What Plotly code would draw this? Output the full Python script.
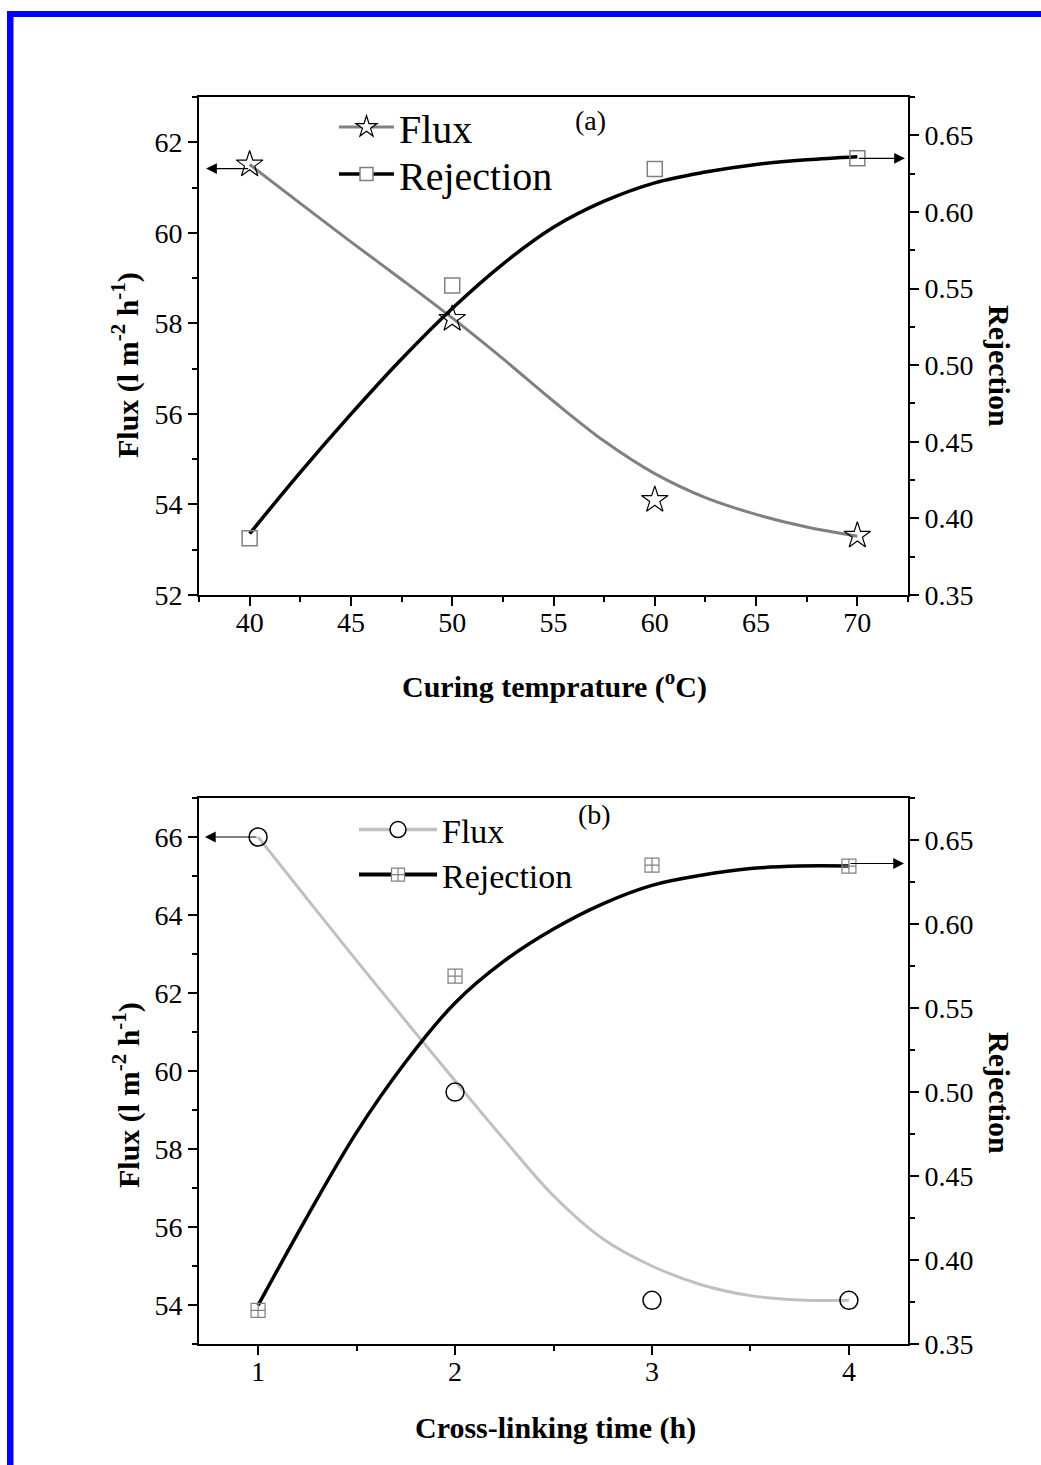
import plotly.graph_objects as go

W, H = 1041, 1465
FONT = "Liberation Serif, Times New Roman, serif"

# ---------------- data: panel (a) ----------------
temp_a = [40, 50, 60, 70]
flux_a = [61.51, 58.10, 54.10, 53.31]
rej_a = [0.387, 0.552, 0.628, 0.635]

# fitted curves
fit_x_a = [40, 42.5, 45, 47.5, 50, 52.5, 55, 57.5, 60, 62.5, 65, 67.5, 70]
flux_fit_a = [61.51, 60.65, 59.80, 58.97, 58.12, 57.22, 56.28, 55.40, 54.68, 54.15, 53.78, 53.50, 53.30]
rej_fit_a = [0.390, 0.430, 0.468, 0.504, 0.537, 0.566, 0.590, 0.607, 0.619, 0.626, 0.631, 0.634, 0.636]

# ---------------- data: panel (b) ----------------
time_b = [1, 2, 3, 4]
flux_b = [66.0, 59.46, 54.12, 54.12]
rej_b = [0.370, 0.569, 0.635, 0.6345]

fit_x_b = [1, 1.25, 1.5, 1.75, 2, 2.25, 2.5, 2.75, 3, 3.25, 3.5, 3.75, 4]
flux_fit_b = [66.0, 64.41, 62.83, 61.28, 59.75, 58.24, 56.80, 55.70, 55.00, 54.52, 54.24, 54.13, 54.12]
rej_fit_b = [0.373, 0.426, 0.476, 0.518, 0.553, 0.578, 0.597, 0.612, 0.623, 0.629, 0.633, 0.6345, 0.6345]

# arrow tips (axis-pointing arrows)
arrow_a_left = (37.85, 61.42)
arrow_a_right = (72.35, 0.635)
arrow_b_left = (0.73, 66.0)
arrow_b_right = (4.28, 0.636)


def px(x):
    return x / W


def py(y):
    return 1 - y / H


XD = [px(199), px(908)]
YD_A = [py(595), py(97)]
YD_B = [py(1344), py(798)]

fig = go.Figure()

GREY = "#808080"
LGREY = "#c0c0c0"

# ---- panel (a) traces ----
fig.add_trace(go.Scatter(x=fit_x_a, y=flux_fit_a, mode="lines", line=dict(color=GREY, width=3, shape="spline"),
                         xaxis="x", yaxis="y", showlegend=False))
fig.add_trace(go.Scatter(x=fit_x_a, y=rej_fit_a, mode="lines", line=dict(color="black", width=3.5, shape="spline"),
                         xaxis="x", yaxis="y2", showlegend=False))
fig.add_trace(go.Scatter(x=temp_a, y=flux_a, mode="markers",
                         marker=dict(symbol="star-open", size=20, color="black", line=dict(width=1.2, color="black")),
                         xaxis="x", yaxis="y", showlegend=False))
fig.add_trace(go.Scatter(x=temp_a, y=rej_a, mode="markers",
                         marker=dict(symbol="square-open", size=15, color=GREY, line=dict(width=1.5, color=GREY)),
                         xaxis="x", yaxis="y2", showlegend=False))

# legend entries (a)
fig.add_trace(go.Scatter(x=[None], y=[None], mode="lines+markers", name="Flux",
                         line=dict(color=GREY, width=3),
                         marker=dict(symbol="star", size=16, color="white", line=dict(width=1.2, color="black")),
                         xaxis="x", yaxis="y", legend="legend"))
fig.add_trace(go.Scatter(x=[None], y=[None], mode="lines+markers", name="Rejection",
                         line=dict(color="black", width=3.5),
                         marker=dict(symbol="square", size=13, color="white", line=dict(width=1.5, color=GREY)),
                         xaxis="x", yaxis="y", legend="legend3"))

# ---- panel (b) traces ----
fig.add_trace(go.Scatter(x=fit_x_b, y=flux_fit_b, mode="lines", line=dict(color=LGREY, width=3, shape="spline"),
                         xaxis="x2", yaxis="y3", showlegend=False))
fig.add_trace(go.Scatter(x=fit_x_b, y=rej_fit_b, mode="lines", line=dict(color="black", width=3.5, shape="spline"),
                         xaxis="x2", yaxis="y4", showlegend=False))
fig.add_trace(go.Scatter(x=time_b, y=flux_b, mode="markers",
                         marker=dict(symbol="circle-open", size=18, color="black", line=dict(width=1.5, color="black")),
                         xaxis="x2", yaxis="y3", showlegend=False))
fig.add_trace(go.Scatter(x=time_b, y=rej_b, mode="markers",
                         marker=dict(symbol="square-cross-open", size=14, color=GREY, line=dict(width=1.2, color=GREY)),
                         xaxis="x2", yaxis="y4", showlegend=False))

fig.add_trace(go.Scatter(x=[None], y=[None], mode="lines+markers", name="Flux",
                         line=dict(color=LGREY, width=3.5),
                         marker=dict(symbol="circle", size=16, color="white", line=dict(width=1.5, color="black")),
                         xaxis="x2", yaxis="y3", legend="legend2"))
fig.add_trace(go.Scatter(x=[None], y=[None], mode="lines+markers", name="Rejection",
                         line=dict(color="black", width=4),
                         marker=dict(symbol="square-cross", size=13, color="white", line=dict(width=1.2, color=GREY)),
                         xaxis="x2", yaxis="y3", legend="legend4"))

tickfont = dict(family=FONT, size=28, color="black")
common = dict(showline=True, linecolor="black", linewidth=2, ticks="outside", tickwidth=2, ticklen=9,
              tickcolor="black", tickfont=tickfont, showgrid=False, zeroline=False, automargin=False)


def minor(dt):
    return dict(ticks="outside", dtick=dt, tick0=0, ticklen=5, tickwidth=2, tickcolor="black")


def leg(xl, yc, size, iw):
    return dict(x=px(xl), y=py(yc), xanchor="left", yanchor="middle", bgcolor="rgba(0,0,0,0)",
                font=dict(family=FONT, size=size, color="black"), itemwidth=iw, tracegroupgap=0)


fig.update_layout(
    width=W, height=H,
    margin=dict(l=0, r=0, t=0, b=0, pad=0, autoexpand=False),
    paper_bgcolor="white", plot_bgcolor="white",
    font=dict(family=FONT, color="black"),
    xaxis=dict(domain=XD, anchor="y", range=[37.5, 72.5], dtick=5, tick0=0, mirror=True,
               ticklabelstandoff=-8, minor=minor(2.5), **common),
    yaxis=dict(domain=YD_A, anchor="x", range=[52, 63], dtick=2, tick0=0, minor=minor(1), **common),
    yaxis2=dict(overlaying="y", side="right", anchor="x", range=[0.35, 0.675], dtick=0.05, tick0=0,
                tickformat=".2f", minor=minor(0.025), **common),
    xaxis3=dict(overlaying="x", side="top", anchor="y", range=[37.5, 72.5], dtick=2.5, tick0=0,
                showline=True, linecolor="black", linewidth=2, ticks="outside", ticklen=3, tickwidth=2,
                tickcolor="black", showticklabels=False, showgrid=False, zeroline=False),
    xaxis2=dict(domain=XD, anchor="y3", range=[0.7, 4.3], dtick=1, tick0=0, mirror=True,
                ticklabelstandoff=-8, minor=minor(0.5), **common),
    yaxis3=dict(domain=YD_B, anchor="x2", range=[53, 67], dtick=2, tick0=0, minor=minor(1), **common),
    yaxis4=dict(overlaying="y3", side="right", anchor="x2", range=[0.35, 0.675], dtick=0.05, tick0=0,
                tickformat=".2f", minor=minor(0.025), **common),
    xaxis4=dict(overlaying="x2", side="top", anchor="y3", range=[0.7, 4.3], dtick=0.5, tick0=0,
                showline=True, linecolor="black", linewidth=2, ticks="outside", ticklen=3, tickwidth=2,
                tickcolor="black", showticklabels=False, showgrid=False, zeroline=False),
    legend=leg(334, 127, 40, 55),
    legend3=leg(334, 174, 40, 55),
    legend2=leg(354, 830, 34, 78),
    legend4=leg(354, 875, 34, 78),
)

# blue frame edges
fig.add_shape(type="rect", xref="paper", yref="paper", x0=px(7), x1=px(13.5), y0=0, y1=py(11),
              fillcolor="#0000ff", line=dict(width=0), layer="above")
fig.add_shape(type="rect", xref="paper", yref="paper", x0=px(7), x1=1, y0=py(17), y1=py(11),
              fillcolor="#0000ff", line=dict(width=0), layer="above")

ann = []
title_font = dict(family=FONT, size=30, color="black")
ann.append(dict(text="<b>Curing temprature (<sup>o</sup>C)</b>", x=px(554), y=py(684), xref="paper", yref="paper",
                showarrow=False, font=title_font, xanchor="center", yanchor="middle"))
ann.append(dict(text="<b>Cross-linking time (h)</b>", x=px(555), y=py(1428), xref="paper", yref="paper",
                showarrow=False, font=title_font, xanchor="center", yanchor="middle"))
for yc in (365, 1095):
    ann.append(dict(text="<b>Flux (l m<sup>-2</sup> h<sup>-1</sup>)</b>", x=px(126), y=py(yc), xref="paper",
                    yref="paper", showarrow=False, font=title_font, textangle=-90,
                    xanchor="center", yanchor="middle"))
for yc in (366, 1093):
    ann.append(dict(text="<b>Rejection</b>", x=px(1000), y=py(yc), xref="paper", yref="paper",
                    showarrow=False, font=title_font, textangle=90, xanchor="center", yanchor="middle"))
ann.append(dict(text="(a)", x=px(590), y=py(121), xref="paper", yref="paper", showarrow=False,
                xanchor="center", yanchor="middle", font=dict(family=FONT, size=28, color="black")))
ann.append(dict(text="(b)", x=px(594), y=py(815), xref="paper", yref="paper", showarrow=False,
                xanchor="center", yanchor="middle", font=dict(family=FONT, size=28, color="black")))

arrow_style = dict(showarrow=True, text="", arrowhead=2, arrowsize=1.8, arrowwidth=1.2, arrowcolor="black")
ann.append(dict(x=arrow_a_left[0], y=arrow_a_left[1], ax=temp_a[0], ay=arrow_a_left[1], xref="x", yref="y",
                axref="x", ayref="y", **arrow_style))
ann.append(dict(x=arrow_a_right[0], y=arrow_a_right[1], ax=temp_a[-1], ay=arrow_a_right[1], xref="x", yref="y2",
                axref="x", ayref="y2", **arrow_style))
ann.append(dict(x=arrow_b_left[0], y=arrow_b_left[1], ax=time_b[0], ay=arrow_b_left[1], xref="x2", yref="y3",
                axref="x2", ayref="y3", **arrow_style))
ann.append(dict(x=arrow_b_right[0], y=arrow_b_right[1], ax=time_b[-1], ay=arrow_b_right[1], xref="x2", yref="y4",
                axref="x2", ayref="y4", **arrow_style))
fig.update_layout(annotations=ann)

fig.write_html("out.html")
